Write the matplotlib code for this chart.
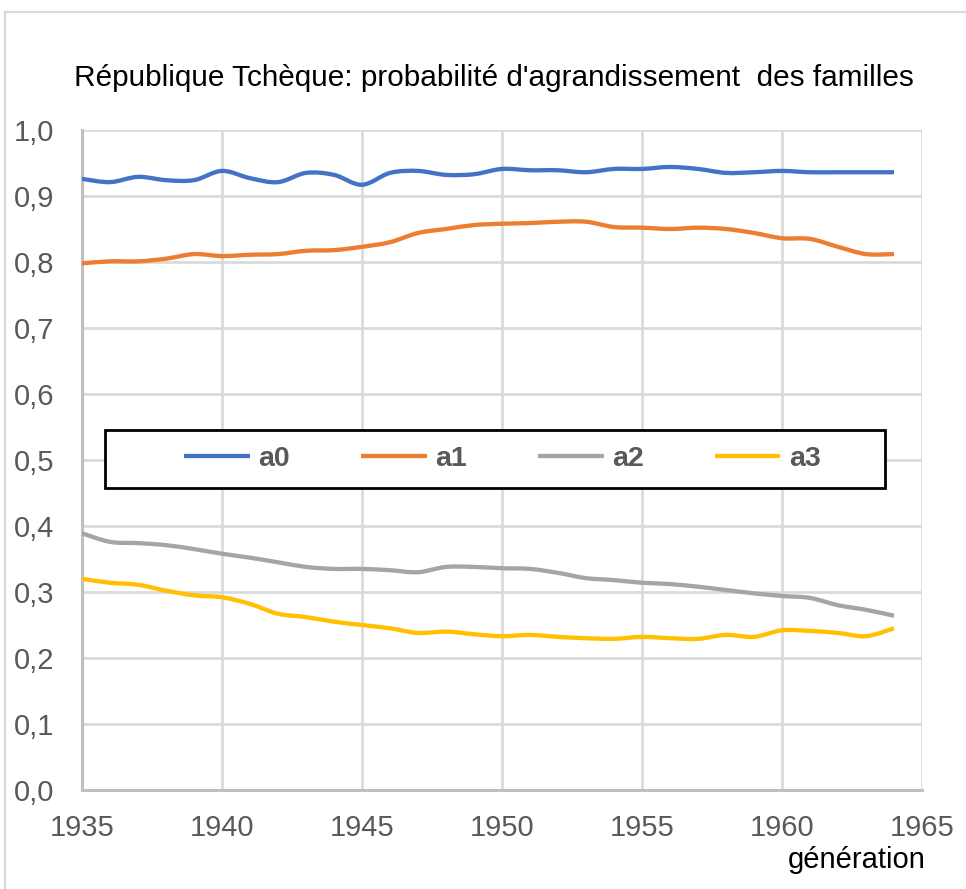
import numpy as np
import matplotlib
matplotlib.use("Agg")
from matplotlib import pyplot as plt
from matplotlib.path import Path
from matplotlib.patches import PathPatch, Rectangle
from matplotlib.lines import Line2D
from matplotlib.ticker import FuncFormatter

plt.rcParams['font.family'] = ['Liberation Sans', 'DejaVu Sans']

# Data (generation years 1935-1964)
years = list(range(1935, 1965))
a0 = [0.926, 0.921, 0.929, 0.924, 0.924, 0.938, 0.927, 0.921, 0.935, 0.932,
      0.917, 0.935, 0.938, 0.932, 0.933, 0.941, 0.939, 0.939, 0.936, 0.941,
      0.941, 0.944, 0.941, 0.935, 0.936, 0.938, 0.936, 0.936, 0.936, 0.936]
a1 = [0.798, 0.801, 0.801, 0.805, 0.812, 0.809, 0.811, 0.812, 0.817, 0.818,
      0.823, 0.830, 0.844, 0.850, 0.856, 0.858, 0.859, 0.861, 0.861, 0.853,
      0.852, 0.850, 0.852, 0.850, 0.844, 0.836, 0.835, 0.823, 0.812, 0.812]
a2 = [0.389, 0.376, 0.374, 0.371, 0.365, 0.358, 0.352, 0.345, 0.338, 0.335,
      0.335, 0.333, 0.330, 0.338, 0.338, 0.336, 0.335, 0.329, 0.321, 0.318,
      0.314, 0.312, 0.308, 0.303, 0.298, 0.294, 0.291, 0.280, 0.273, 0.264]
a3 = [0.320, 0.314, 0.311, 0.302, 0.295, 0.292, 0.282, 0.267, 0.262, 0.255,
      0.250, 0.245, 0.238, 0.240, 0.236, 0.233, 0.235, 0.232, 0.230, 0.229,
      0.232, 0.230, 0.229, 0.235, 0.232, 0.242, 0.241, 0.238, 0.233, 0.245]

series = [('a0', a0, '#4472C4'), ('a1', a1, '#ED7D31'),
          ('a2', a2, '#A5A5A5'), ('a3', a3, '#FFC000')]


def smooth_path(x, y):
    # Excel-style smoothed line: Catmull-Rom converted to cubic Bezier segments
    pts = np.column_stack([x, y]).astype(float)
    ext = np.vstack([pts[0], pts, pts[-1]])
    verts = [pts[0]]
    codes = [Path.MOVETO]
    for i in range(len(pts) - 1):
        p0, p1, p2, p3 = ext[i], ext[i + 1], ext[i + 2], ext[i + 3]
        verts += [p1 + (p2 - p0) / 6, p2 - (p3 - p1) / 6, p2]
        codes += [Path.CURVE4] * 3
    return Path(verts, codes)


fig = plt.figure(figsize=(9.66, 8.89), dpi=100)
ax = fig.add_axes([82 / 966, 1 - 790 / 889, 840 / 966, 660 / 889])

for name, vals, col in series:
    ax.add_patch(PathPatch(smooth_path(years, vals), fill=False, edgecolor=col,
                           lw=3.1, capstyle='butt', joinstyle='round', zorder=3))

ax.set_xlim(1935, 1965)
ax.set_ylim(0, 1.0)
ax.set_xticks(range(1935, 1966, 5))
ax.set_yticks(np.arange(0, 1.01, 0.1))
ax.yaxis.set_major_formatter(FuncFormatter(lambda v, p: f"{v:.1f}".replace('.', ',')))
ax.grid(True, color='#D9D9D9', lw=1.9)
ax.set_axisbelow(True)
ax.tick_params(axis='both', length=0, labelsize=21, labelcolor='#595959')
ax.tick_params(axis='y', pad=20)
ax.tick_params(axis='x', pad=17)
for s in ['top', 'right']:
    ax.spines[s].set_visible(False)
for s in ['left', 'bottom']:
    ax.spines[s].set_color('#BFBFBF')
    ax.spines[s].set_linewidth(2.2)

# legend box with white fill
x0, x1 = (105 - 82) / 840, (885 - 82) / 840
y0, y1 = (790 - 488) / 660, (790 - 430) / 660
ax.add_patch(Rectangle((x0, y0), x1 - x0, y1 - y0, transform=ax.transAxes,
                       facecolor='white', edgecolor='black', lw=2, zorder=4))
handles = [Line2D([], [], color=col, lw=3.1, solid_capstyle='butt') for _, _, col in series]
leg = ax.legend(handles, [n for n, _, _ in series], ncol=4, frameon=False,
                loc='center', bbox_to_anchor=((x0 + x1) / 2 + 0.009, (y0 + y1) / 2),
                handlelength=2.3, handletextpad=0.3, columnspacing=2.5,
                prop={'size': 20.5, 'weight': 'bold'})
for t in leg.get_texts():
    t.set_color('#595959')
leg.set_zorder(5)

fig.text(494 / 966, 1 - 78 / 889, "République Tchèque: probabilité d'agrandissement  des familles",
         ha='center', va='center', fontsize=21.4, color='black')
fig.text(926 / 966, 1 - 860 / 889, "génération", ha='right', va='center',
         fontsize=21, color='black')

# outer chart border (top and left visible)
fig.add_artist(Line2D([5 / 966, 1], [1 - 12 / 889, 1 - 12 / 889], color='#D9D9D9', lw=1.6))
fig.add_artist(Line2D([5 / 966, 5 / 966], [0, 1 - 12 / 889], color='#D9D9D9', lw=1.6))

fig.savefig('out.png', dpi=100)
